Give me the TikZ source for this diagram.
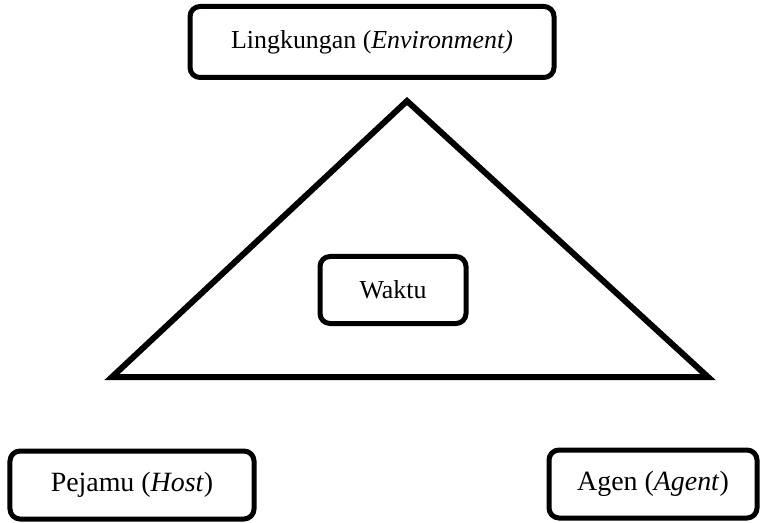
\documentclass[tikz,border=0pt]{standalone}
\usepackage{fontspec}
\setmainfont{Liberation Serif}
\usepackage{tikz}
\usetikzlibrary{positioning}

\tikzset{
  faktor/.style={draw, line width=5bp, rounded corners=10bp, fill=white,
    align=center, inner sep=0pt, font=\fontsize{26}{30}\selectfont},
  faktorbawah/.style={faktor, font=\fontsize{28}{32}\selectfont}
}

\begin{document}
\begin{tikzpicture}[x=1bp,y=-1bp,line join=miter]
  \useasboundingbox (0,0) rectangle (761,523);
%%
  % Triangle
  \coordinate (puncak) at (407,101);
  \coordinate (kiri) at (112,377);
  \coordinate (kanan) at (708,377);
  \draw [line width=6bp] (puncak) -- (kiri) -- (kanan) -- cycle;
  % Nodes
  \node [faktor, minimum width=364bp, minimum height=71bp] (lingkungan) at (372,42)
    {Lingkungan (\textit{Environment)}};
  \node [faktor, minimum width=146bp, minimum height=67bp] (waktu) at (393,290)
    {Waktu};
  \node [faktorbawah, minimum width=244bp, minimum height=68bp] (pejamu) at (132,485)
    {Pejamu (\textit{Host})};
  \node [faktorbawah, minimum width=208bp, minimum height=68bp] (agen) at (653,484)
    {Agen (\textit{Agent})};
%
\end{tikzpicture}
\end{document}
